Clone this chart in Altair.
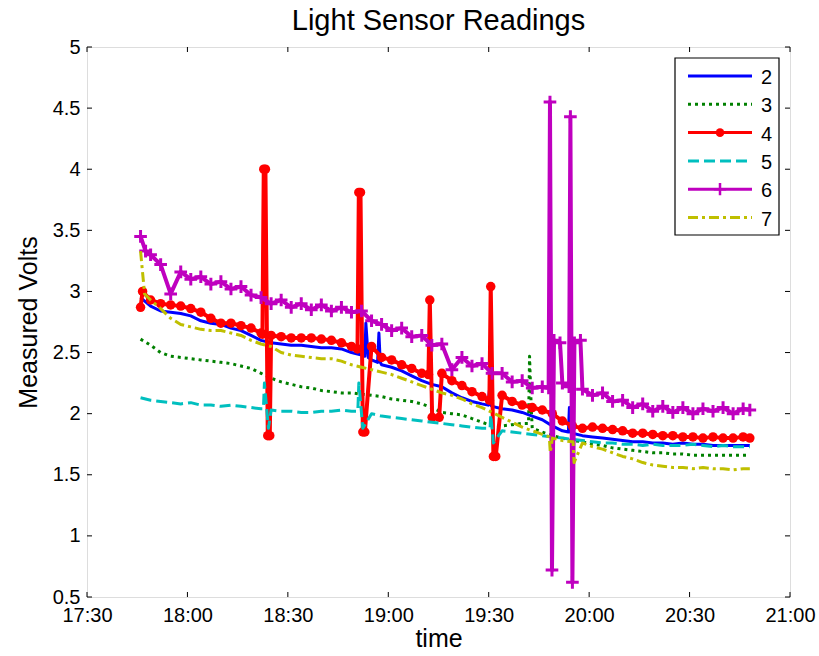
import json
import altair as alt
import pandas as pd

FONT = "Liberation Sans"

# ---------------- data ----------------
series_names = ["2", "3", "4", "5", "6", "7"]
series_colors = ["#0000FF", "#008000", "#FF0000", "#00BFBF", "#BF00BF", "#BFBF00"]
series_dash = [[1, 0], [3, 4], [1, 0], [11, 5], [1, 0], [10, 4, 3, 4]]
series_width = [3, 3, 4, 3, 4, 3]

# minutes after 17:30
t_grid = [16, 19, 22, 25, 28, 31, 34, 37, 40, 43,
          46, 49, 52, 55, 58, 61, 64, 67, 70, 73,
          76, 79, 82, 85, 88, 91, 94, 97, 100, 103,
          106, 109, 112, 115, 118, 121, 124, 127, 130, 133,
          136, 139, 142, 145, 148, 151, 154, 157, 160, 163,
          166, 169, 172, 175, 178, 181, 184, 187, 190, 193,
          196, 198]

v2 = [2.95, 2.88, 2.84, 2.83, 2.82, 2.80, 2.76, 2.74, 2.73, 2.70,
      2.68, 2.64, 2.60, 2.58, 2.57, 2.56, 2.56, 2.55, 2.54, 2.54,
      2.53, 2.50, 2.48, 2.44, 2.40, 2.38, 2.35, 2.31, 2.27, 2.24,
      2.22, 2.17, 2.13, 2.10, 2.08, 2.06, 2.04, 2.03, 2.01, 1.98,
      1.95, 1.90, 1.86, 1.84, 1.82, 1.81, 1.80, 1.79, 1.78, 1.77,
      1.77, 1.76, 1.76, 1.75, 1.76, 1.75, 1.75, 1.74, 1.74, 1.74,
      1.74, 1.74]
v2_extra_t = [83.0, 83.3, 84.0, 86.8, 87.2, 87.6, 119.8, 120.2, 120.6, 143.8, 144.1, 144.6]
v2_extra_v = [2.47, 2.74, 2.46, 2.42, 2.66, 2.42, 2.07, 2.19, 2.07, 1.85, 2.05, 1.84]

v3 = [2.61, 2.56, 2.50, 2.47, 2.46, 2.45, 2.44, 2.43, 2.42, 2.41,
      2.39, 2.37, 2.33, 2.29, 2.26, 2.24, 2.22, 2.21, 2.19, 2.18,
      2.17, 2.17, 2.16, 2.15, 2.14, 2.12, 2.11, 2.10, 2.08, 2.05,
      2.01, 2.00, 1.99, 1.96, 1.93, 1.90, 1.90, 1.91, 1.92, 1.88,
      1.85, 1.82, 1.80, 1.78, 1.77, 1.75, 1.74, 1.72, 1.71, 1.70,
      1.69, 1.68, 1.68, 1.67, 1.67, 1.66, 1.66, 1.66, 1.66, 1.66,
      1.66, 1.66]
v3_extra_t = [131.9, 132.2, 132.7]
v3_extra_v = [1.92, 2.47, 2.05]

v4 = [2.87, 2.93, 2.90, 2.89, 2.88, 2.86, 2.83, 2.78, 2.74, 2.74,
      2.72, 2.70, 2.66, 2.64, 2.63, 2.62, 2.62, 2.62, 2.61, 2.60,
      2.58, 2.55, None, 2.55, 2.46, 2.44, 2.40, 2.37, 2.33, None,
      2.33, 2.27, 2.23, 2.18, 2.14, None, 2.15, 2.10, 2.07, 2.05,
      2.03, 2.00, 1.94, 1.90, 1.88, 1.89, 1.88, 1.87, 1.86, 1.84,
      1.84, 1.83, 1.82, 1.82, 1.81, 1.81, 1.80, 1.81, 1.80, 1.80,
      1.81, 1.80]
v4_extra_t = [16.6, 52.4, 52.8, 53.3, 54.0, 54.6, 80.8, 81.2, 81.7, 82.4, 83.0,
              102.0, 102.4, 103.1, 105.2, 120.2, 120.6, 121.4, 122.1]
v4_extra_v = [3.00, 2.65, 4.00, 4.00, 1.82, 1.82, 2.53, 3.81, 3.81, 1.85, 1.85,
              2.32, 2.93, 1.97, 1.97, 2.11, 3.04, 1.65, 1.65]

v5 = [2.13, 2.11, 2.10, 2.09, 2.08, 2.09, 2.07, 2.07, 2.06, 2.07,
      2.06, 2.05, 2.04, 2.03, 2.02, 2.02, 2.01, 2.01, 2.02, 2.02,
      2.03, 2.02, None, 2.00, 1.98, 1.97, 1.96, 1.95, 1.94, 1.93,
      1.92, 1.91, 1.90, 1.89, 1.88, None, 1.86, 1.85, 1.84, 1.83,
      1.82, 1.81, 1.80, 1.79, 1.78, 1.77, 1.76, 1.76, 1.75, 1.75,
      1.74, 1.75, 1.74, 1.74, 1.74, 1.75, 1.74, 1.73, 1.74, 1.73,
      1.73, 1.73]
v5_extra_t = [52.7, 53.0, 54.2, 80.9, 81.2, 82.4, 120.4, 120.6, 121.4]
v5_extra_v = [2.04, 2.25, 1.88, 2.02, 2.25, 1.88, 1.88, 1.99, 1.76]

v6 = [3.45, 3.30, 3.22, 2.98, 3.16, 3.10, 3.12, 3.06, 3.08, 3.02,
      3.04, 2.97, 2.95, 2.90, 2.93, 2.87, 2.90, 2.85, 2.89, 2.84,
      2.87, 2.83, 2.84, 2.76, 2.73, 2.68, 2.70, 2.63, 2.64, 2.56,
      2.57, 2.36, 2.46, 2.39, 2.41, 2.33, 2.33, 2.26, 2.27, 2.21,
      2.22, None, 2.25, None, 2.20, 2.15, 2.17, 2.10, 2.11, 2.05,
      2.08, 2.02, 2.06, 2.01, 2.05, 2.00, 2.04, 2.02, 2.05, 2.00,
      2.04, 2.03]
v6_extra_t = [17.5, 137.9, 138.3, 138.9, 139.5, 141.3,
              144.0, 144.4, 145.0, 145.6, 147.4]
v6_extra_v = [3.33, 2.21, 4.55, 0.72, 2.60, 2.58,
              2.22, 4.43, 0.62, 2.58, 2.60]

v7 = [3.33, 2.93, 2.86, 2.78, 2.73, 2.71, 2.69, 2.68, 2.68, 2.66,
      2.64, 2.60, 2.57, 2.55, 2.50, 2.48, 2.47, 2.46, 2.45, 2.45,
      2.43, 2.40, 2.38, 2.36, 2.34, 2.32, 2.29, 2.26, 2.23, 2.20,
      2.17, 2.15, 2.12, 2.08, 2.05, 2.01, 1.97, 1.93, 1.89, 1.86,
      1.83, 1.80, 1.78, 1.77, 1.76, 1.73, 1.71, 1.68, 1.65, 1.63,
      1.60, 1.58, 1.57, 1.56, 1.56, 1.55, 1.56, 1.55, 1.55, 1.54,
      1.55, 1.55]
v7_extra_t = [17.2, 138.1, 138.4, 145.2, 145.5]
v7_extra_v = [2.98, 1.81, 1.68, 1.77, 1.60]

x_tick_vals = [0, 30, 60, 90, 120, 150, 180, 210]
x_tick_labels = ["17:30", "18:00", "18:30", "19:00", "19:30", "20:00", "20:30", "21:00"]
y_tick_vals = [0.5, 1, 1.5, 2, 2.5, 3, 3.5, 4, 4.5, 5]
y_tick_labels = ["0.5", "1", "1.5", "2", "2.5", "3", "3.5", "4", "4.5", "5"]

all_vals = [v2, v3, v4, v5, v6, v7]
all_ext_t = [v2_extra_t, v3_extra_t, v4_extra_t, v5_extra_t, v6_extra_t, v7_extra_t]
all_ext_v = [v2_extra_v, v3_extra_v, v4_extra_v, v5_extra_v, v6_extra_v, v7_extra_v]


def build(vals, et, ev, name):
    rows = [(t, v) for t, v in zip(t_grid, vals) if v is not None]
    rows += list(zip(et, ev))
    rows.sort()
    return pd.DataFrame({"t": [r[0] for r in rows], "v": [r[1] for r in rows], "series": name})


frames = [build(all_vals[i], all_ext_t[i], all_ext_v[i], n) for i, n in enumerate(series_names)]

# ---------------- encodings ----------------
W, H = 703, 550

x_enc = alt.X(
    "t:Q",
    scale=alt.Scale(domain=[0, 210], nice=False, zero=False),
    axis=alt.Axis(
        values=x_tick_vals,
        labelExpr=json.dumps(x_tick_labels) + "[round(datum.value / 30)]",
        title="time", ticks=False, tickSize=0, domain=False, grid=False,
        labelFont=FONT, labelFontSize=20, labelColor="black", labelPadding=8,
        labelBaseline="top", labelFlush=False, labelOverlap=False, labelBound=False,
        titleFont=FONT, titleFontSize=25, titleFontWeight="normal", titleColor="black",
        titleY=49, titleBaseline="alphabetic",
    ),
)
y_enc = alt.Y(
    "v:Q",
    scale=alt.Scale(domain=[0.5, 5], nice=False, zero=False),
    axis=alt.Axis(
        values=y_tick_vals,
        labelExpr=json.dumps(y_tick_labels) + "[round((datum.value - 0.5) / 0.5)]",
        title="Measured Volts", ticks=False, tickSize=0, domain=False, grid=False,
        labelFont=FONT, labelFontSize=20, labelColor="black", labelPadding=7,
        labelFlush=False, labelOverlap=False, labelBound=False,
        titleFont=FONT, titleFontSize=25, titleFontWeight="normal", titleColor="black",
        titleX=-51, titleY=H / 2, titleAngle=270, titleAlign="center",
        titleBaseline="alphabetic",
    ),
)

layers = []
for i, name in enumerate(series_names):
    kw = dict(color=series_colors[i], strokeWidth=series_width[i], strokeCap="butt",
              strokeJoin="round")
    if series_dash[i] != [1, 0]:
        kw["strokeDash"] = series_dash[i]
    layers.append(alt.Chart(frames[i]).mark_line(**kw).encode(x=x_enc, y=y_enc))
    if name == "4":
        layers.append(alt.Chart(frames[i]).mark_point(
            shape="circle", filled=True, size=90, color=series_colors[i], opacity=1
        ).encode(x=x_enc, y=y_enc))
    if name == "6":
        layers.append(alt.Chart(frames[i]).mark_point(
            shape="M-1,0L1,0M0,-1L0,1", filled=False, size=160, strokeWidth=3,
            color=series_colors[i], opacity=1
        ).encode(x=x_enc, y=y_enc))

tick_x_df = pd.DataFrame({"t": x_tick_vals})
tick_y_df = pd.DataFrame({"v": y_tick_vals})
layers.append(alt.Chart(tick_x_df).mark_rule(color="black", strokeWidth=1).encode(
    x=x_enc, y=alt.value(H - 5), y2=alt.value(H)))
layers.append(alt.Chart(tick_x_df).mark_rule(color="black", strokeWidth=1).encode(
    x=x_enc, y=alt.value(0), y2=alt.value(5)))
layers.append(alt.Chart(tick_y_df).mark_rule(color="black", strokeWidth=1).encode(
    y=y_enc, x=alt.value(0), x2=alt.value(5)))
layers.append(alt.Chart(tick_y_df).mark_rule(color="black", strokeWidth=1).encode(
    y=y_enc, x=alt.value(W - 5), x2=alt.value(W)))

main = alt.layer(*layers)

# ---------------- legend ----------------
legend_df = pd.DataFrame({"series": series_names})
ly = alt.Y("series:N", scale=alt.Scale(type="point", domain=series_names,
                                        range=[29, 170.5], padding=0), axis=None)
col = alt.Color("series:N", scale=alt.Scale(domain=series_names, range=series_colors), legend=None)
dash = alt.StrokeDash("series:N", scale=alt.Scale(domain=series_names, range=series_dash), legend=None)

box = alt.Chart(pd.DataFrame({"series": ["box"]})).mark_rect(
    fill="white", stroke="black", strokeWidth=1.2
).encode(x=alt.value(588), x2=alt.value(692), y=alt.value(11), y2=alt.value(188))
leg_lines = alt.Chart(legend_df).mark_rule(strokeWidth=3, strokeCap="butt").encode(
    x=alt.value(601), x2=alt.value(665), y=ly, color=col, strokeDash=dash)
leg_dot = alt.Chart(legend_df).transform_filter("datum.series == '4'").mark_point(
    shape="circle", filled=True, size=75, opacity=1).encode(x=alt.value(633), y=ly, color=col)
leg_plus = alt.Chart(legend_df).transform_filter("datum.series == '6'").mark_point(
    shape="M-1,0L1,0M0,-1L0,1", filled=False, size=150, strokeWidth=2.5, opacity=1
).encode(x=alt.value(633), y=ly, color=col)
leg_text = alt.Chart(legend_df).mark_text(
    align="left", baseline="middle", font=FONT, fontSize=20, color="black", dy=2
).encode(x=alt.value(674), y=ly, text="series:N")

legend = alt.layer(box, leg_lines, leg_dot, leg_plus, leg_text)

chart = alt.layer(main, legend).resolve_scale(y="independent").properties(
    width=W, height=H,
    autosize=alt.AutoSizeParams(type="none"),
    padding={"left": 87, "top": 47, "right": 29, "bottom": 59},
    title=alt.TitleParams(
        "Light Sensor Readings", font=FONT, fontSize=29, fontWeight="normal",
        color="black", anchor="middle", frame="group", baseline="alphabetic", offset=-22,
    ),
).configure_view(stroke="black", strokeWidth=1.2).configure(background="white")

chart.save("out.html", embed_options={"renderer": "svg", "actions": False})
